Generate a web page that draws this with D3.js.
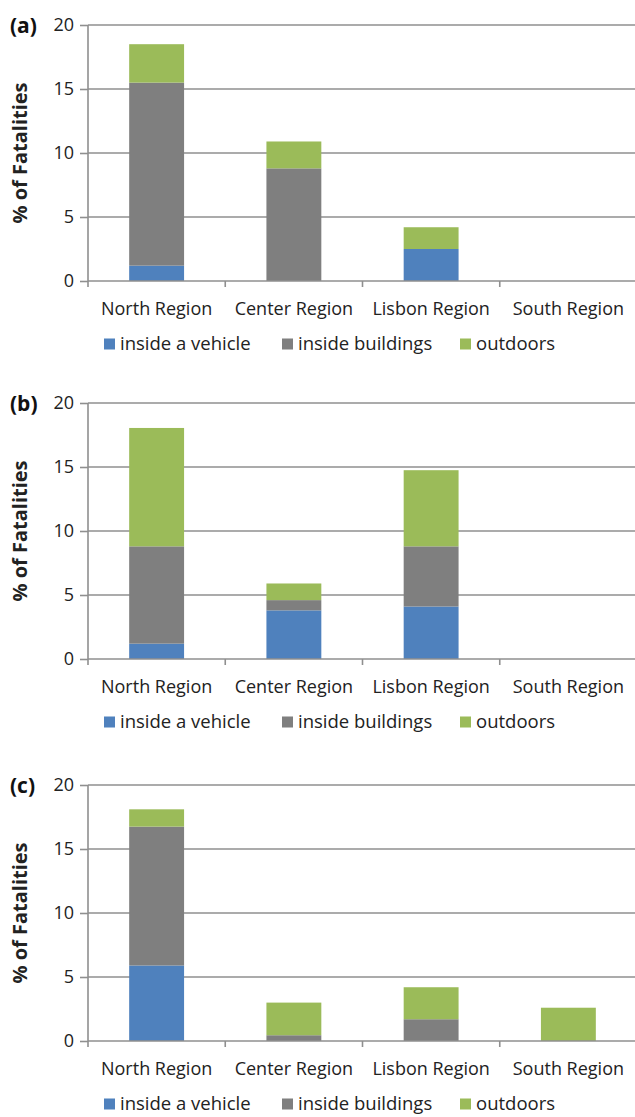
<!DOCTYPE html>
<html><head><meta charset="utf-8">
<script src="https://cdn.jsdelivr.net/npm/d3@7"></script>
<style>body{margin:0;background:#fff}svg{display:block}</style>
</head><body>
<svg id="c" width="635" height="1117"></svg>
<script>
const categories = ["North Region", "Center Region", "Lisbon Region", "South Region"];
const seriesNames = ["inside a vehicle", "inside buildings", "outdoors"];
const panelLabels = ["(a)", "(b)", "(c)"];
const yTicks = [0, 5, 10, 15, 20];
// values per panel, per series, per category
const vehicleA = [1.2, 0, 2.5, 0];
const buildingsA = [14.3, 8.8, 0, 0];
const outdoorsA = [3.0, 2.1, 1.7, 0];
const vehicleB = [1.2, 3.8, 4.1, 0];
const buildingsB = [7.6, 0.8, 4.7, 0];
const outdoorsB = [9.25, 1.3, 5.95, 0];
const vehicleC = [5.9, 0, 0, 0];
const buildingsC = [10.85, 0.45, 1.7, 0];
const outdoorsC = [1.35, 2.55, 2.5, 2.6];

const panels = [
  [vehicleA, buildingsA, outdoorsA],
  [vehicleB, buildingsB, outdoorsB],
  [vehicleC, buildingsC, outdoorsC]
];
const colors = ["#4f81bd", "#7f7f7f", "#9bbb59"];
const tops = [25, 403, 785];
const plotH = 256, left = 88, right = 637;
const font = "'Open Sans', sans-serif";
const fs = "18px";
const txt = "#222";
const gridC = "#8f8f8f";

const svg = d3.select("#c");
const x = d3.scaleBand().domain(categories).range([left, right]).paddingInner(0.6).paddingOuter(0.3);
const xb = d3.scaleBand().domain(categories).range([left, right]);

panels.forEach((vals, pi) => {
  const top = tops[pi];
  const y = d3.scaleLinear().domain([0, 20]).range([top + plotH, top]);
  const g = svg.append("g");
  const y0 = y(0);
  g.selectAll(".grid").data(yTicks.filter(d => d > 0)).join("line")
    .attr("x1", left).attr("x2", right).attr("y1", d => y(d)).attr("y2", d => y(d))
    .attr("stroke", gridC).attr("stroke-width", 1.6);
  const rows = categories.map((c, ci) => {
    const o = {cat: c};
    seriesNames.forEach((s, si) => o[s] = vals[si][ci]);
    return o;
  });
  const stack = d3.stack().keys(seriesNames)(rows);
  stack.forEach((layer, si) => {
    g.selectAll(null).data(layer.filter(d => d[1] - d[0] > 0)).join("rect")
      .attr("x", d => x(d.data.cat)).attr("width", x.bandwidth())
      .attr("y", d => y(d[1])).attr("height", d => y(d[0]) - y(d[1]))
      .attr("fill", colors[si]);
  });
  const ya = d3.axisLeft(y).tickValues(yTicks).tickSize(8).tickPadding(6).tickFormat(d3.format("d"));
  const yg = g.append("g").attr("transform", `translate(${left},0)`).call(ya);
  yg.select(".domain").remove();
  yg.append("line").attr("x1", 0).attr("x2", 0).attr("y1", top).attr("y2", y0 + 6)
    .attr("stroke", gridC).attr("stroke-width", 1.6);
  yg.selectAll(".tick line").attr("stroke", gridC).attr("stroke-width", 1.6);
  yg.selectAll(".tick text").attr("fill", txt).style("font-family", font).style("font-size", fs);
  const xa = d3.axisBottom(xb).tickSize(0).tickPadding(21);
  const xg = g.append("g").attr("transform", `translate(0,${y0})`).call(xa);
  xg.select(".domain").remove();
  xg.append("line").attr("x1", left).attr("x2", right).attr("y1", 0).attr("y2", 0)
    .attr("stroke", gridC).attr("stroke-width", 1.6);
  xg.selectAll(null).data(categories.slice(1)).join("line")
    .attr("x1", d => xb(d)).attr("x2", d => xb(d)).attr("y1", 0).attr("y2", 6)
    .attr("stroke", gridC).attr("stroke-width", 1.6);
  xg.selectAll(".tick text").attr("fill", txt).style("font-family", font).style("font-size", fs);
  g.append("text").attr("transform", `translate(27,${(top + y0) / 2}) rotate(-90)`)
    .attr("text-anchor", "middle").attr("fill", txt)
    .style("font-family", font).style("font-size", "20px").style("font-weight", "bold")
    .text("% of Fatalities");
  g.append("text").attr("x", 10).attr("y", top + 8).attr("fill", "#111")
    .style("font-family", font).style("font-size", "21px").style("font-weight", "bold")
    .text(panelLabels[pi]);
  const legX = [104, 282, 460];
  const lg = g.append("g").attr("transform", `translate(0,${y0 + 63})`);
  seriesNames.forEach((s, si) => {
    lg.append("rect").attr("x", legX[si]).attr("y", -5.5).attr("width", 11).attr("height", 11).attr("fill", colors[si]);
    lg.append("text").attr("x", legX[si] + 16).attr("y", 6).attr("fill", txt)
      .style("font-family", font).style("font-size", "18.5px").text(s);
  });
});
</script>
</body></html>
